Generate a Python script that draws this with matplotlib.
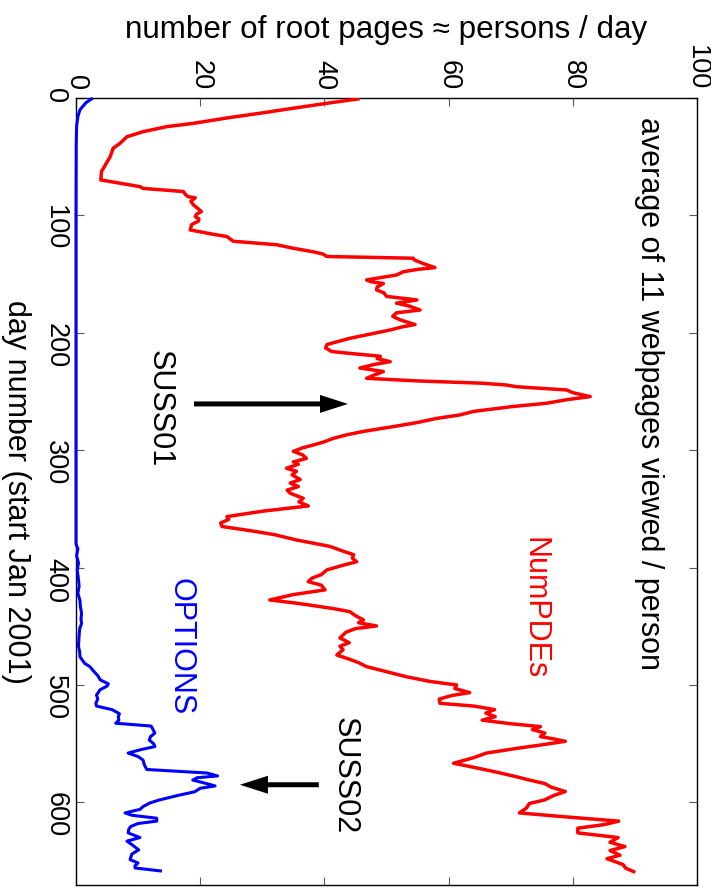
import matplotlib
matplotlib.use("Agg")
import matplotlib.pyplot as plt

plt.rcParams['font.family'] = ['Liberation Sans', 'DejaVu Sans']

# ---------------- data ----------------
numpdes_day = [0.8, 4.5, 8.7, 13, 17, 21.6, 24.4, 28.7, 33, 38.6, 42.7, 50, 55.5, 62.7, 69.8,
               75.5, 77, 79.7, 82, 84, 85, 88, 91, 94, 96.8, 99, 101, 103, 105, 107, 108, 112.4,
               116, 118, 122, 125, 128, 131, 133, 135, 136.5, 138, 141, 144.5, 146, 148, 150.8,
               153, 155, 156.5, 158, 161, 163.5, 166, 169, 172, 174.8, 177, 180.6, 183, 186, 189,
               193, 195, 197.6, 201, 204.7, 207, 210, 213, 216, 218, 220, 222, 224.6, 227, 230,
               233, 236, 238.8, 241, 243, 244.5, 246, 248.7, 251, 254.4, 257, 260, 263, 267, 270,
               273, 276.5, 280, 284, 287, 290, 293, 295.6, 298, 301, 304, 307, 310, 312, 315.4,
               318, 321, 325, 328, 331, 334, 336.7, 341, 344, 347.5, 352, 356.6, 359, 362, 365,
               369, 372, 376.5, 379, 382, 386, 389, 392, 395, 398, 402, 406, 409, 412, 415, 419,
               423, 427.6, 430, 432, 435, 437.6, 441, 444.6, 447, 449.7, 452, 455, 460, 464, 467,
               470, 474.5, 478, 481, 484.4, 488, 490, 493, 497, 500, 503, 506.5, 509, 512, 515.6,
               518, 521, 524, 527, 530, 533, 535.5, 538, 541, 544, 546, 548, 551, 554, 558, 562,
               566.7, 569, 571, 574, 578, 581, 584, 587, 590.8, 594, 598, 601, 605, 609, 612, 616,
               619, 622, 626, 630, 634, 637.7, 641, 645, 648, 653, 656, 659]
numpdes_val = [45.4, 40.4, 35.0, 29.6, 24.3, 18.9, 14.6, 10.8, 8.2, 7.1, 6.0, 5.5, 4.9, 4.1, 4.0,
               10.3, 10.8, 17.3, 17.6, 18.0, 19.2, 18.5, 18.9, 19.6, 20.2, 19.4, 19.2, 19.8, 19.7, 18.9, 18.6, 18.4,
               22.0, 24.3, 25.3, 32.3, 35.0, 38.2, 39.8, 40.4, 54.3, 54.5, 55.9, 57.8, 55.0, 52.7, 51.6,
               49.0, 46.8, 47.5, 49.5, 48.5, 48.4, 49.6, 50.0, 54.9, 51.6, 53.5, 55.4, 51.6, 51.0, 52.2,
               54.6, 52.5, 50.6, 47.5, 44.1, 42.5, 40.4, 40.2, 41.2, 45.0, 49.0, 48.5, 50.6, 48.0, 45.7,
               49.5, 48.0, 46.8, 55.0, 65.6, 69.3, 71.0, 79.0, 80.0, 82.8, 79.0, 75.8, 70.0, 64.0, 61.8,
               58.0, 54.9, 51.0, 46.3, 43.5, 41.4, 39.9, 38.2, 36.5, 35.0, 36.5, 37.1, 35.0, 35.8, 33.9,
               35.5, 34.8, 36.1, 34.5, 35.8, 34.0, 34.5, 36.6, 35.9, 37.4, 30.0, 24.3, 24.6, 23.3, 23.5,
               28.6, 32.0, 35.5, 38.0, 40.9, 43.0, 44.7, 44.5, 45.2, 43.0, 40.4, 39.5, 38.0, 37.4, 39.5, 40.1,
               35.0, 31.2, 35.0, 37.7, 41.5, 44.1, 45.0, 46.3, 45.5, 48.4, 45.0, 43.5, 42.5, 44.0, 42.5,
               43.0, 42.0, 44.0, 45.5, 46.8, 49.5, 51.0, 53.2, 57.0, 61.3, 61.0, 63.4, 60.5, 58.5, 58.6,
               64.1, 67.4, 66.0, 67.5, 65.4, 70.0, 74.8, 73.5, 75.5, 74.8, 77.0, 78.8, 75.0, 71.0, 66.1, 64.0,
               60.8, 63.0, 64.8, 67.5, 70.8, 73.0, 75.5, 76.5, 78.8, 77.0, 75.4, 73.0, 72.5, 71.4, 78.0, 87.4,
               85.0, 80.8, 80.8, 87.3, 86.0, 88.4, 86.0, 87.6, 85.5, 88.1, 88.5, 89.8]

options_day = [0.8, 4, 10, 16, 24, 40, 100, 200, 300, 380, 384, 390, 396, 402, 410, 416, 422, 428,
               433, 439, 444, 447.6, 452, 458, 467, 472, 476, 481.6, 484.5, 488, 492, 495.7, 499,
               501, 504, 508.5, 512, 515.6, 518, 521, 524.5, 527, 530, 532.6, 535, 538, 541, 544,
               547, 550, 552.5, 555, 558, 561, 564, 568, 572, 575, 577.5, 579, 581, 583.7, 586, 588,
               591, 594, 598, 600.5, 603.6, 606, 609, 611, 613.5, 616, 618, 620.6, 623, 626, 630,
               633, 636, 640.5, 644, 648.8, 651.6, 654, 655.9, 658.4]
options_val = [2.5, 1.6, 0.64, 0.3, 0.1, 0.03, 0.0, 0.0, 0.0, 0.0, 0.3, 0.1, 0.4, 0.2, 0.4, 0.5, 0.3, 0.64,
               0.7, 0.9, 0.8, 0.9, 0.6, 0.5, 0.4, 0.6, 0.64, 1.4, 2.25, 2.8, 3.5, 3.9, 5.2,
               5.0, 3.9, 3.3, 3.5, 3.2, 3.3, 5.8, 7.0, 6.8, 6.9, 6.4, 12.1, 12.4, 12.7, 12.0,
               11.8, 12.5, 12.7, 10.5, 8.4, 10.0, 10.8, 11.0, 11.4, 21.1, 22.8, 19.5, 18.8, 20.8, 22.4, 20.0,
               19.1, 16.5, 13.4, 11.9, 10.8, 10.3, 7.9, 9.0, 13.0, 13.0, 10.0, 8.8, 8.5, 8.4, 10.3,
               8.2, 9.0, 10.1, 9.0, 8.7, 10.0, 9.5, 9.5, 13.6]

value_ticks = [0, 20, 40, 60, 80, 100]
day_ticks = [0, 100, 200, 300, 400, 500, 600]

# ---------------- figure ----------------
W, H = 711, 888
fig = plt.figure(figsize=(W / 100, H / 100), dpi=100)
L, R, T, B = 76, 697, 98, 885
ax = fig.add_axes([L / W, 1 - B / H, (R - L) / W, (B - T) / H])

ax.plot(options_val, options_day, color='#0000ff', lw=2.2, zorder=3, clip_on=False,
        solid_joinstyle='round')
ax.plot(numpdes_val, numpdes_day, color='#ff0000', lw=2.5, zorder=3, solid_joinstyle='round')

ax.set_xlim(0, 100)
ax.set_ylim(670.4, 0)
ax.set_xticks(value_ticks)
ax.set_yticks(day_ticks)
ax.xaxis.tick_top()
ax.tick_params(axis='both', direction='in', length=5.8, width=0.8, color='0.35',
               top=True, bottom=True, left=True, right=True,
               labeltop=True, labelbottom=False, labelleft=True, labelright=False,
               labelsize=19.5, pad=5.5)
ax.set_xticklabels([str(v) for v in value_ticks], rotation=-90)
ax.set_yticklabels([str(d) for d in day_ticks], rotation=-90)
for s in ax.spines.values():
    s.set_linewidth(1.0)
    s.set_color('black')

fig.text((L + R) / 2 / W, 1 - 30 / H, 'number of root pages \u2248 persons / day',
         ha='center', va='center', fontsize=22.6)
fig.text(16 / W, 1 - ((T + B) / 2) / H, 'day number (start Jan 2001)',
         rotation=-90, ha='center', va='center', fontsize=22)

ax.text(92.3, 16, 'average of 11 webpages viewed / person', rotation=-90,
        ha='center', va='top', fontsize=22)
ax.text(73.8, 374, 'NumPDEs', rotation=-90, ha='center', va='top', fontsize=22, color='#ff0000')
ax.text(16.8, 409, 'OPTIONS', rotation=-90, ha='center', va='top', fontsize=22, color='#0000ff')
ax.text(13.5, 214.6, 'SUSS01', rotation=-90, ha='center', va='top', fontsize=22)
ax.text(43.3, 527, 'SUSS02', rotation=-90, ha='center', va='top', fontsize=22)

px_x = (R - L) / 100.0   # pixels per value unit
px_y = (B - T) / 670.4   # pixels per day
ax.arrow(19.0, 260.6, 43.8 - 19.0, 0, width=5 / px_y, head_width=18 / px_y,
         head_length=28 / px_x, length_includes_head=True, color='k', lw=0, zorder=4)
ax.arrow(39.1, 585, 26.4 - 39.1, 0, width=5 / px_y, head_width=18 / px_y,
         head_length=28 / px_x, length_includes_head=True, color='k', lw=0, zorder=4)

fig.savefig('out.png', dpi=100)
